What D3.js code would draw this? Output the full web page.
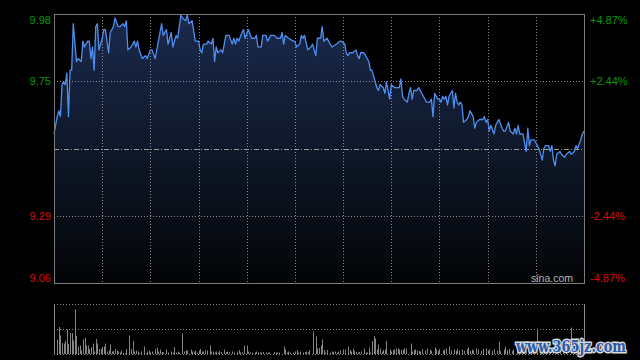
<!DOCTYPE html>
<html>
<head>
<meta charset="utf-8">
<script src="https://cdn.jsdelivr.net/npm/d3@7"></script>
<style>
  html, body { margin: 0; padding: 0; background: #000; }
  svg { display: block; font-family: "Liberation Sans", Arial, sans-serif; }
</style>
</head>
<body>
<svg id="chart"></svg>
<script>
// previous close and percentage ticks
var prevClose = 9.52
var pctTicks = [4.87, 2.44, 0, -2.44, -4.87]

// intraday price, minute index (0..330) -> price
var priceMin = [0,2,3,4,5,6,7,8,9,10,11,12,14,15,17,18,19,21,22,23,24,25,26,27,28,30,31,32,34,35,37,38,40,41,43,44,45,46,48,50,51,52,53,55,57,58,60,61,63,65,67,68,70,71,73,74,76,77,79,80,82,83,84,86,88,90,91,92,93,95,96,98,99,100,101,102,104,105,107,109,111,112,113,114,115,117,118,119,121,123,125,126,127,129,130,132,133,135,137,139,141,142,143,144,146,149,150,151,153,154,155,156,158,160,161,163,164,166,167,168,170,171,173,176,178,179,181,182,183,184,186,188,189,190,191,193,194,196,197,198,200,201,202,203,205,206,207,208,209,210,212,213,215,216,217,218,220,221,222,223,224,226,227,230,232,234,235,236,237,239,240,241,242,243,244,245,246,248,249,250,251,252,253,254,255,257,258,259,260,261,262,263,265,267,268,269,270,271,272,274,275,276,277,279,280,281,283,284,286,287,288,289,290,292,293,294,295,296,297,299,300,301,302,304,305,306,308,309,310,311,312,313,315,316,318,319,321,322,324,325,326,328,329,330]
var price = [9.57,9.63,9.65,9.63,9.74,9.75,9.74,9.78,9.63,9.79,9.79,9.95,9.82,9.83,9.82,9.89,9.87,9.89,9.89,9.83,9.87,9.79,9.94,9.95,9.86,9.90,9.93,9.93,9.85,9.92,9.94,9.97,9.94,9.94,9.95,9.94,9.96,9.86,9.87,9.89,9.87,9.89,9.86,9.83,9.84,9.83,9.86,9.86,9.83,9.89,9.95,9.91,9.93,9.88,9.92,9.87,9.91,9.90,9.98,9.97,9.96,9.98,9.95,9.96,9.89,9.89,9.86,9.85,9.88,9.88,9.89,9.88,9.90,9.82,9.87,9.85,9.86,9.85,9.91,9.91,9.88,9.90,9.88,9.90,9.89,9.92,9.93,9.90,9.93,9.90,9.90,9.91,9.87,9.87,9.91,9.91,9.89,9.91,9.91,9.90,9.90,9.92,9.88,9.91,9.90,9.89,9.89,9.87,9.88,9.91,9.90,9.91,9.86,9.87,9.88,9.84,9.90,9.90,9.94,9.89,9.90,9.89,9.87,9.88,9.89,9.89,9.88,9.85,9.84,9.85,9.85,9.86,9.84,9.83,9.85,9.85,9.84,9.82,9.79,9.79,9.75,9.73,9.72,9.74,9.73,9.71,9.75,9.72,9.69,9.74,9.73,9.73,9.73,9.76,9.70,9.69,9.68,9.71,9.73,9.69,9.72,9.72,9.73,9.70,9.68,9.68,9.69,9.63,9.71,9.69,9.69,9.68,9.70,9.69,9.70,9.67,9.70,9.72,9.66,9.71,9.68,9.67,9.68,9.67,9.61,9.62,9.63,9.65,9.64,9.63,9.59,9.61,9.62,9.62,9.63,9.61,9.62,9.58,9.60,9.57,9.60,9.61,9.62,9.59,9.58,9.58,9.61,9.58,9.57,9.59,9.57,9.60,9.57,9.57,9.54,9.51,9.59,9.53,9.55,9.55,9.54,9.53,9.52,9.48,9.52,9.53,9.53,9.51,9.53,9.48,9.46,9.50,9.51,9.50,9.49,9.50,9.51,9.50,9.51,9.53,9.52,9.55,9.57,9.58]

// volume, minute index -> relative volume (0..100 of panel height)
var volMin = [0,2,3,4,5,6,7,8,9,10,11,12,13,14,15,16,17,18,19,20,21,22,23,24,25,26,27,28,29,30,31,32,33,34,35,36,37,38,39,40,41,42,43,44,45,47,48,49,50,51,52,53,54,56,57,58,59,60,61,63,64,65,66,67,68,70,71,73,74,75,76,77,78,80,81,82,83,85,86,87,88,89,90,91,92,93,94,95,97,98,99,100,101,102,103,104,106,107,108,109,111,112,114,115,116,117,118,120,121,122,123,125,126,127,128,129,130,132,133,134,137,138,139,140,143,144,145,146,147,149,150,151,152,153,155,156,157,158,159,161,163,164,165,166,167,168,169,170,172,173,174,175,176,177,178,180,181,183,184,185,186,187,188,189,190,191,193,194,195,196,197,198,199,200,201,202,203,204,205,206,207,209,210,211,212,213,214,215,216,217,218,219,222,223,224,225,226,227,228,229,231,232,234,235,237,238,239,240,242,243,244,246,247,249,250,251,252,254,255,257,258,259,260,261,263,264,266,267,269,270,271,273,274,276,277,278,280,281,282,283,285,286,288,290,292,294,296,298,301,303,305,307,309,311,313,315,317,319,322,324,326,328,330]
var vol = [100,29,54,37,22,21,26,49,20,42,42,27,89,36,15,17,7,29,32,17,17,10,14,21,5,30,21,10,10,14,15,21,5,7,19,5,6,10,7,5,3,7,2,2,10,37,10,26,5,7,5,2,5,15,2,5,7,3,5,10,13,5,9,4,3,9,3,5,3,14,3,5,3,41,5,7,7,9,5,5,7,3,7,10,5,5,7,7,17,5,5,3,5,3,6,4,9,4,5,4,5,3,5,8,3,3,17,17,5,3,3,3,5,3,3,3,4,3,3,3,4,3,3,3,15,9,3,5,3,3,5,8,3,5,3,4,5,4,8,45,35,11,12,17,29,8,3,8,3,5,4,5,3,5,7,9,9,15,8,5,11,6,4,3,4,5,11,3,3,13,3,26,36,31,9,19,11,5,8,9,26,9,5,8,9,11,11,9,8,9,11,11,21,5,8,9,7,6,5,10,7,11,9,6,13,9,6,10,7,9,11,15,7,9,6,10,7,9,6,10,13,6,9,7,11,9,6,10,11,7,9,6,10,7,25,6,9,15,7,10,6,9,8,6,10,7,9,12,51,8,10,6,9,12,7,9,6,10,53,8,9,7,11]

function main(){
    var width = 640
    var height = 360
    var left = 54, right = 584
    var top = 14, bottom = 283
    var vTop = 304, vBottom = 354
    var green = "#0a9a0a", red = "#d80c0c"

    var svg = d3.select('#chart')
    svg.attr("width", width).attr("height", height)
    svg.append("rect").attr("width", width).attr("height", height).attr("fill", "#000")

    var maxPct = d3.max(pctTicks) / 100
    var xScale = d3.scaleLinear().domain([0, 330]).range([left, right])
    var yScale = d3.scaleLinear()
                    .domain([prevClose * (1 - maxPct), prevClose * (1 + maxPct)])
                    .range([bottom, top])
    var yVol = d3.scaleLinear().domain([0, 100]).range([vBottom, vTop])

    var defs = svg.append("defs")
    var grad = defs.append("linearGradient")
        .attr("id", "fillGrad")
        .attr("gradientUnits", "userSpaceOnUse")
        .attr("x1", 0).attr("y1", top).attr("x2", 0).attr("y2", bottom)
    grad.append("stop").attr("offset", "0%").attr("stop-color", "#1a2a4e")
    grad.append("stop").attr("offset", "55%").attr("stop-color", "#0e1626")
    grad.append("stop").attr("offset", "100%").attr("stop-color", "#030406")

    var pts = priceMin.map(function(m, i){ return [m, price[i]] })

    // area under price
    var area = d3.area()
        .x(d => xScale(d[0]))
        .y0(bottom)
        .y1(d => yScale(d[1]))
    svg.append("path")
        .datum(pts)
        .attr("d", area)
        .attr("fill", "url(#fillGrad)")

    // vertical grid every 30 minutes
    svg.append("g").selectAll("line")
        .data(d3.range(30, 330, 30))
        .join("line")
        .attr("x1", d => Math.round(xScale(d)) + 0.5)
        .attr("x2", d => Math.round(xScale(d)) + 0.5)
        .attr("y1", top).attr("y2", bottom)
        .attr("stroke", "#8a8a8a")
        .attr("stroke-dasharray", "1,2")

    // horizontal grid
    svg.append("g").selectAll("line")
        .data(pctTicks.filter(p => Math.abs(p) < d3.max(pctTicks)))
        .join("line")
        .attr("x1", left).attr("x2", right)
        .attr("y1", d => Math.round(yScale(prevClose * (1 + d / 100))) + 0.5)
        .attr("y2", d => Math.round(yScale(prevClose * (1 + d / 100))) + 0.5)
        .attr("stroke", d => d == 0 ? "#9a9a9a" : "#8a8a8a")
        .attr("stroke-dasharray", d => d == 0 ? "5,2,1,2" : "1,2")

    // price line
    var line = d3.line()
        .x(d => xScale(d[0]))
        .y(d => yScale(d[1]))
    svg.append("path")
        .datum(pts)
        .attr("d", line)
        .attr("fill", "none")
        .attr("stroke", "#4f8ff0")
        .attr("stroke-width", 1.3)
        .attr("stroke-linejoin", "round")

    // frame
    svg.append("rect")
        .attr("x", left + 0.5).attr("y", top + 0.5)
        .attr("width", right - left).attr("height", bottom - top)
        .attr("fill", "none")
        .attr("stroke", "#7a7a7a")

    // axis labels
    function labelY(d){
        var y = yScale(prevClose * (1 + d / 100))
        return Math.max(top + 6, Math.min(bottom - 5, y))
    }
    var labelTicks = pctTicks.filter(p => p != 0)
    svg.append("g").selectAll("text")
        .data(labelTicks)
        .join("text")
        .attr("x", 51)
        .attr("y", labelY)
        .attr("dy", "0.36em")
        .attr("text-anchor", "end")
        .attr("font-size", 11)
        .attr("fill", d => d > 0 ? green : red)
        .text(d => (prevClose * (1 + d / 100)).toFixed(2))
    svg.append("g").selectAll("text")
        .data(labelTicks)
        .join("text")
        .attr("x", 590)
        .attr("y", labelY)
        .attr("dy", "0.36em")
        .attr("font-size", 11)
        .attr("fill", d => d > 0 ? green : red)
        .text(d => (d > 0 ? "+" : "") + d.toFixed(2) + "%")

    svg.append("text")
        .attr("x", 573).attr("y", 282)
        .attr("text-anchor", "end")
        .attr("font-size", 10.5)
        .attr("fill", "#b4b4b4")
        .text("sina.com")

    // volume panel
    var vg = svg.append("g")
    vg.selectAll("line.grid")
        .data([vTop, (vTop + vBottom) / 2, vBottom])
        .join("line")
        .attr("class", "grid")
        .attr("x1", left).attr("x2", right)
        .attr("y1", d => Math.round(d) + 0.5).attr("y2", d => Math.round(d) + 0.5)
        .attr("stroke", "#8a8a8a")
        .attr("stroke-dasharray", "1,2")
    vg.append("line")
        .attr("x1", right + 0.5).attr("x2", right + 0.5)
        .attr("y1", vTop).attr("y2", vBottom + 1)
        .attr("stroke", "#8a8a8a")
    vg.append("line")
        .attr("x1", left + 0.5).attr("x2", left + 0.5)
        .attr("y1", vTop).attr("y2", vBottom + 1)
        .attr("stroke", "#8a8a8a")

    vg.selectAll("rect")
        .data(volMin.map((m, i) => ({m: m, v: vol[i]})))
        .join("rect")
        .attr("x", d => Math.round(xScale(d.m)))
        .attr("y", d => yVol(d.v))
        .attr("width", 1)
        .attr("height", d => yVol(0) - yVol(d.v))
        .attr("fill", "#858585")

    // watermark
    svg.append("text")
        .attr("x", 516).attr("y", 352)
        .attr("font-family", "'DejaVu Serif', serif")
        .attr("font-weight", "bold")
        .attr("font-size", 16)
        .attr("textLength", 110)
        .attr("lengthAdjust", "spacingAndGlyphs")
        .attr("fill", "#2a5aa8")
        .attr("stroke", "#d8d8d8")
        .attr("stroke-width", 3)
        .attr("paint-order", "stroke")
        .text("www.365jz.com")
}
main()
</script>
</body>
</html>
